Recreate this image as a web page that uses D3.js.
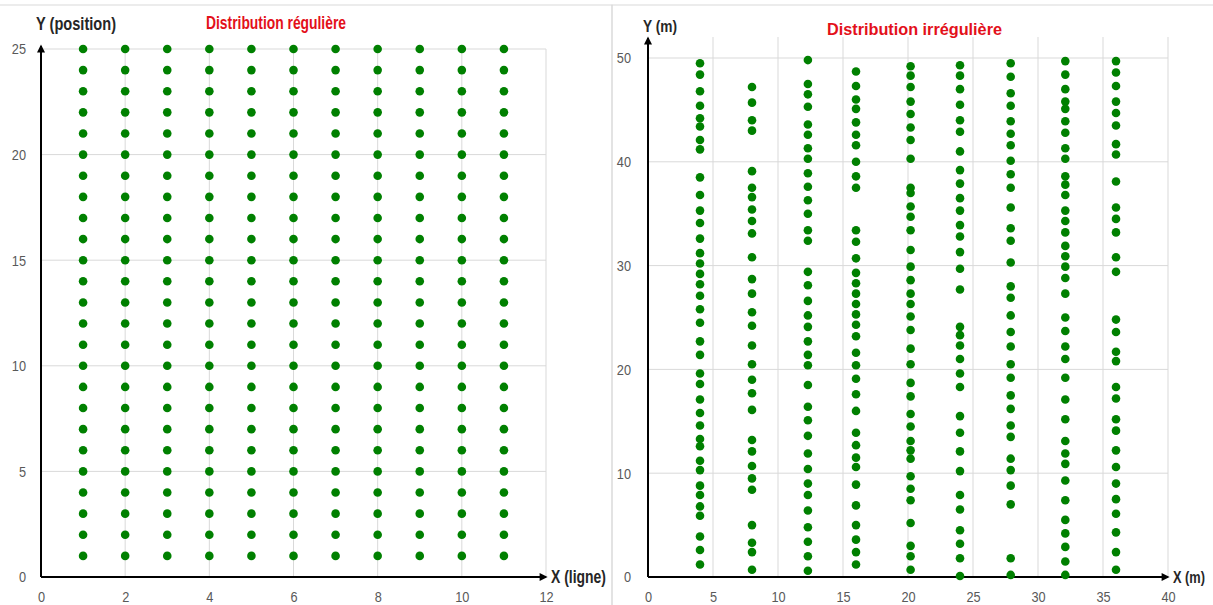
<!DOCTYPE html>
<html>
<head>
<meta charset="utf-8">
<script src="https://cdn.jsdelivr.net/npm/d3@7"></script>
<style>
body { margin: 0; background: #fff; }
svg { display: block; font-family: "Liberation Sans", Arial, sans-serif; }
.tick-label { fill: #595959; font-size: 15px; }
.axis-label { fill: #262626; font-weight: bold; }
.title { fill: #e3101a; font-weight: bold; }
</style>
</head>
<body>
<svg id="chart" width="1213" height="605"></svg>
<script>
// regular grid (left)
const regX = [1, 2, 3, 4, 5, 6, 7, 8, 9, 10, 11];
const regY = [1, 2, 3, 4, 5, 6, 7, 8, 9, 10, 11, 12, 13, 14, 15, 16, 17, 18, 19, 20, 21, 22, 23, 24, 25];
const regXTicks = [0, 2, 4, 6, 8, 10, 12];
const regYTicks = [0, 5, 10, 15, 20, 25];

// irregular rows (right), one x per row
const irrX = [4.0, 8.0, 12.3, 16.0, 20.2, 24.0, 27.9, 32.1, 36.0];
const row4 = [49.5, 48.4, 46.8, 45.4, 44.2, 43.4, 42.1, 41.2, 38.5, 36.8, 35.3, 34.1, 32.6, 31.2, 30.2, 29.2, 28.2, 27.1, 25.8, 24.5, 22.7, 21.4, 19.6, 18.6, 17.1, 15.8, 14.6, 13.3, 12.6, 11.2, 10.3, 8.8, 7.9, 6.8, 5.9, 3.9, 2.6, 1.2];
const row8 = [47.2, 45.7, 44.0, 43.0, 39.1, 37.5, 36.6, 35.4, 34.3, 33.1, 30.8, 28.7, 27.3, 25.5, 24.2, 22.3, 20.5, 19.0, 17.7, 16.1, 13.2, 12.1, 10.7, 9.5, 8.4, 5.0, 3.3, 2.4, 0.7];
const row12 = [49.8, 47.5, 46.5, 45.3, 43.6, 42.6, 41.3, 40.3, 38.9, 37.6, 36.3, 35.0, 33.4, 32.4, 29.4, 28.1, 26.6, 25.2, 24.1, 22.7, 21.4, 20.4, 18.5, 16.4, 15.1, 13.6, 11.9, 10.4, 9.0, 7.9, 6.4, 4.8, 3.4, 2.0, 0.6];
const row16 = [48.7, 47.3, 46.0, 45.1, 43.8, 42.6, 41.6, 40.0, 38.6, 37.5, 33.4, 32.3, 30.7, 29.3, 28.3, 27.3, 26.3, 25.3, 24.3, 23.2, 21.6, 20.4, 19.1, 17.6, 16.0, 13.9, 12.7, 11.5, 10.6, 8.9, 6.9, 5.0, 3.6, 2.4, 1.2];
const row20 = [49.2, 48.3, 47.2, 45.8, 44.6, 43.3, 42.1, 40.3, 37.5, 37.0, 35.7, 34.7, 33.4, 31.5, 29.9, 28.6, 27.3, 26.3, 25.1, 23.8, 22.0, 20.5, 18.7, 17.4, 15.7, 14.5, 13.1, 12.2, 11.4, 9.7, 8.5, 7.4, 5.2, 3.0, 2.0, 0.7];
const row24 = [49.3, 48.3, 47.0, 45.5, 44.0, 42.9, 41.0, 39.2, 37.9, 36.5, 35.3, 33.9, 32.8, 31.3, 29.7, 27.7, 24.1, 23.3, 22.3, 21.0, 19.6, 18.3, 15.5, 13.9, 12.1, 10.2, 7.9, 6.5, 4.5, 3.2, 1.8, 0.1];
const row28 = [49.5, 48.2, 46.6, 45.4, 43.9, 42.7, 41.6, 40.1, 38.8, 37.5, 35.6, 33.6, 32.4, 30.3, 28.0, 26.9, 25.2, 23.6, 22.2, 20.5, 19.2, 17.5, 16.2, 14.6, 13.5, 11.4, 10.3, 8.8, 7.0, 1.8, 0.2];
const row32 = [49.7, 48.4, 47.0, 45.8, 45.1, 43.9, 42.8, 41.3, 40.3, 38.6, 37.8, 36.8, 35.3, 34.3, 33.2, 31.9, 30.9, 29.9, 28.8, 27.3, 25.0, 23.7, 22.2, 21.0, 19.2, 17.1, 15.2, 13.1, 11.9, 10.9, 9.3, 7.4, 5.5, 4.2, 2.9, 1.5, 0.2];
const row36 = [49.7, 48.6, 47.3, 45.8, 44.7, 43.5, 41.7, 40.7, 38.1, 35.6, 34.5, 33.2, 30.8, 29.4, 24.8, 23.6, 21.7, 20.8, 18.3, 17.2, 15.2, 14.1, 12.2, 10.6, 9.0, 7.5, 6.1, 4.3, 2.4, 0.7];
const irrRows = [row4, row8, row12, row16, row20, row24, row28, row32, row36];
const irrXTicks = [0, 5, 10, 15, 20, 25, 30, 35, 40];
const irrYTicks = [0, 10, 20, 30, 40, 50];

const svg = d3.select('#chart');
const dotColor = '#008000';
const gridColor = '#d9d9d9';
const narrow = 0.85; // the source font is a condensed sans

svg.append('defs').append('marker')
    .attr('id', 'arrow')
    .attr('viewBox', '0 0 10 10')
    .attr('refX', 8).attr('refY', 5)
    .attr('markerWidth', 4.5).attr('markerHeight', 4)
    .attr('markerUnits', 'strokeWidth')
    .attr('orient', 'auto')
    .append('path')
    .attr('d', 'M0,0 L10,5 L0,10 z')
    .attr('fill', '#000');

// panel frames
svg.append('rect').attr('x', -1).attr('y', 5).attr('width', 613).attr('height', 620)
    .attr('fill', 'none').attr('stroke', gridColor);
svg.append('rect').attr('x', 612).attr('y', 5).attr('width', 610).attr('height', 620)
    .attr('fill', 'none').attr('stroke', gridColor);

function label(g, cls, x, y, size, width, str, dy) {
    return g.append('text').attr('class', cls)
        .attr('x', x).attr('y', y).attr('dy', dy || null)
        .attr('font-size', size)
        .attr('textLength', width)
        .attr('lengthAdjust', 'spacingAndGlyphs')
        .text(str);
}

function panel(opt) {
    const x = d3.scaleLinear().domain(opt.xDomain).range([opt.x0, opt.x1]);
    const y = d3.scaleLinear().domain(opt.yDomain).range([opt.y0, opt.y1]);
    const g = svg.append('g');

    // grid
    g.selectAll('.vgrid').data(opt.xTicks.filter(d => d > 0)).enter()
        .append('line')
        .attr('x1', d => x(d)).attr('x2', d => x(d))
        .attr('y1', opt.gridTop).attr('y2', y(0))
        .attr('stroke', gridColor);
    g.selectAll('.hgrid').data(opt.yTicks.filter(d => d > 0)).enter()
        .append('line')
        .attr('x1', x(0)).attr('x2', x(opt.xDomain[1]))
        .attr('y1', d => y(d)).attr('y2', d => y(d))
        .attr('stroke', gridColor);

    // tick labels
    const xAxis = g.append('g')
        .attr('transform', 'translate(0,' + y(0) + ')')
        .call(d3.axisBottom(x).tickValues(opt.xTicks).tickSize(0).tickPadding(14));
    const yAxis = g.append('g')
        .attr('transform', 'translate(' + x(0) + ',0)')
        .call(d3.axisLeft(y).tickValues(opt.yTicks).tickSize(0).tickPadding(opt.yPad / narrow));
    [xAxis, yAxis].forEach(a => {
        a.select('.domain').remove();
        a.attr('font-family', null).attr('font-size', null);
        a.selectAll('text').attr('class', 'tick-label').attr('fill', null)
            .attr('transform', 'scale(' + narrow + ',1)');
    });

    // arrows
    g.append('line')
        .attr('x1', x(0)).attr('x2', opt.arrowX)
        .attr('y1', y(0)).attr('y2', y(0))
        .attr('stroke', '#000').attr('stroke-width', 2)
        .attr('marker-end', 'url(#arrow)');
    g.append('line')
        .attr('x1', x(0)).attr('x2', x(0))
        .attr('y1', y(0)).attr('y2', opt.arrowY)
        .attr('stroke', '#000').attr('stroke-width', 2)
        .attr('marker-end', 'url(#arrow)');

    // dots
    g.selectAll('circle').data(opt.points).enter()
        .append('circle')
        .attr('cx', d => x(d[0]))
        .attr('cy', d => y(d[1]))
        .attr('r', 4.3)
        .attr('fill', dotColor);

    // labels
    label(g, 'axis-label', x(0) - 5, opt.yLabelY, opt.labelSize, opt.yLabelW, opt.yLabel);
    label(g, 'axis-label', opt.arrowX + 5, y(0), opt.labelSize, opt.xLabelW, opt.xLabel, '0.35em');
    label(g, 'title', opt.titleX, opt.titleY, opt.labelSize, opt.titleW, opt.title);
}

panel({
    xDomain: [0, 12], yDomain: [0, 25],
    x0: 41, x1: 546, y0: 577, y1: 49,
    xTicks: regXTicks, yTicks: regYTicks, yPad: 15,
    gridTop: 49, arrowX: 546, arrowY: 46,
    points: regX.flatMap(c => regY.map(r => [c, r])),
    labelSize: 18,
    yLabel: 'Y (position)', yLabelY: 30, yLabelW: 80,
    xLabel: 'X (ligne)', xLabelW: 55,
    title: 'Distribution régulière', titleX: 206, titleY: 29, titleW: 140
});

panel({
    xDomain: [0, 40], yDomain: [0, 50],
    x0: 648, x1: 1168, y0: 577, y1: 58,
    xTicks: irrXTicks, yTicks: irrYTicks, yPad: 17,
    gridTop: 37, arrowX: 1168, arrowY: 38,
    points: irrX.flatMap((c, i) => irrRows[i].map(v => [c, v])),
    labelSize: 16,
    yLabel: 'Y (m)', yLabelY: 32, yLabelW: 34,
    xLabel: 'X (m)', xLabelW: 32,
    title: 'Distribution irrégulière', titleX: 827, titleY: 35, titleW: 175
});
</script>
</body>
</html>
